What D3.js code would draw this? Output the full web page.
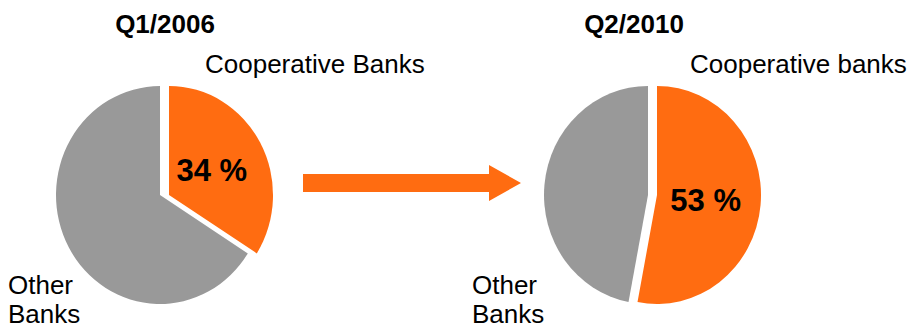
<!DOCTYPE html>
<html>
<head>
<meta charset="utf-8">
<script src="https://cdn.jsdelivr.net/npm/d3@7"></script>
<style>
  html, body { margin: 0; padding: 0; background: #fff; }
  svg { display: block; font-family: "Liberation Sans", Arial, sans-serif; }
</style>
</head>
<body>
<svg id="chart" width="913" height="329"></svg>
<script>
// Market share of cooperative banks vs. other banks, two periods
const periods = ["Q1/2006", "Q2/2010"];
const segments = ["Cooperative", "Other"];
const cooperativeShare = [34, 53];
const otherShare = [66, 47];
const cooperativeLabels = ["Cooperative Banks", "Cooperative banks"];
const otherLabel = ["Other", "Banks"];

const colors = { Cooperative: "#FF6C11", Other: "#999999" };

const svg = d3.select("#chart");

// layout of each pie: centre, radii, and how far the cooperative slice is pulled out
const layout = [
  { cx: 160, cy: 195, rx: 104, ry: 109, pull: 9, titleX: 165, coopX: 205, otherX: 8 },
  { cx: 648, cy: 195, rx: 104, ry: 109, pull: 9, titleX: 634, coopX: 690, otherX: 472 }
];

const pie = d3.pie().sort(null).value(d => d.value);

periods.forEach((p, i) => {
  const L = layout[i];
  const data = [
    { key: "Cooperative", value: cooperativeShare[i] },
    { key: "Other", value: otherShare[i] }
  ];
  const arcs = pie(data);
  const arc = d3.arc().innerRadius(0).outerRadius(L.ry);
  const labelArc = d3.arc().innerRadius(0).outerRadius(L.ry * 0.94);
  const sx = L.rx / L.ry;

  const g = svg.append("g");

  arcs.forEach(a => {
    const dx = a.data.key === "Cooperative" ? L.pull : 0;
    g.append("path")
      .attr("transform", `translate(${L.cx + dx},${L.cy}) scale(${sx},1)`)
      .attr("d", arc(a))
      .attr("fill", colors[a.data.key]);
  });

  // value label on the cooperative slice
  const coop = arcs[0];
  const [lx, ly] = labelArc.centroid(coop);
  g.append("text")
    .attr("x", L.cx + L.pull + lx * sx)
    .attr("y", L.cy + ly)
    .attr("text-anchor", "middle")
    .attr("dy", "0.35em")
    .attr("font-size", 31)
    .attr("font-weight", "bold")
    .attr("fill", "#000")
    .text(`${coop.data.value} %`);

  // period title
  g.append("text")
    .attr("x", L.titleX)
    .attr("y", 33)
    .attr("text-anchor", "middle")
    .attr("font-size", 26)
    .attr("font-weight", "bold")
    .text(p);

  // slice names
  g.append("text")
    .attr("x", L.coopX)
    .attr("y", 73)
    .attr("font-size", 26)
    .text(cooperativeLabels[i]);

  otherLabel.forEach((t, j) => {
    g.append("text")
      .attr("x", L.otherX)
      .attr("y", 294 + j * 29)
      .attr("font-size", 26)
      .text(t);
  });
});

// arrow between the two periods
const arrowX = d3.scaleLinear().domain([0, 1]).range([303, 521]);
const ay = 183;
const arrowPts = [
  [arrowX(0), ay - 9], [489, ay - 9], [489, ay - 18], [arrowX(1), ay],
  [489, ay + 18], [489, ay + 9], [arrowX(0), ay + 9]
];
svg.append("path")
  .attr("d", d3.line()(arrowPts) + "Z")
  .attr("fill", colors.Cooperative);
</script>
</body>
</html>
